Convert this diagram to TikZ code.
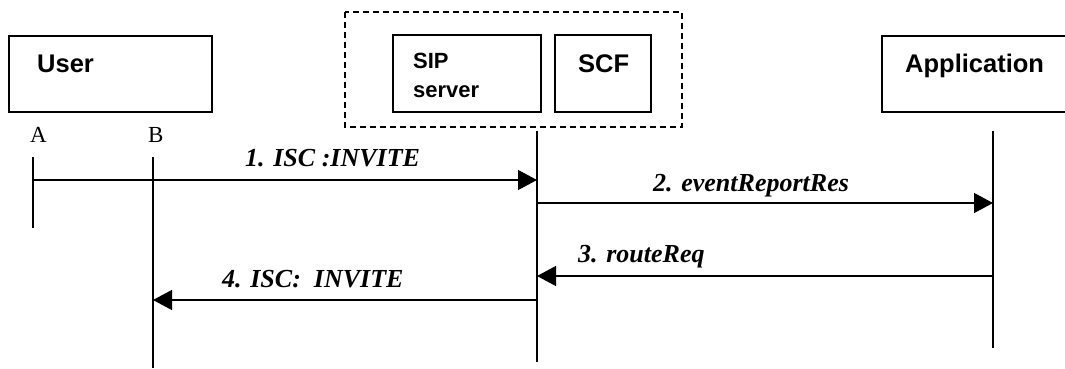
\documentclass[tikz,border=0pt]{standalone}
\usepackage{fontspec}
\setmainfont{Liberation Serif}
\setsansfont{Liberation Sans}
\usetikzlibrary{arrows.meta}
\begin{document}
\begin{tikzpicture}[x=1pt,y=-1pt,
  entity/.style={draw,line width=1.2pt},
  grp/.style={draw,line width=1.2pt,dash pattern=on 6pt off 4pt},
  life/.style={line width=1.2pt},
  msg/.style={line width=1.3pt,-{Triangle[length=19pt,width=20pt]}},
  etxt/.style={anchor=base west,inner sep=0pt,font=\sffamily\bfseries\fontsize{25.5}{30}\selectfont},
  mtxt/.style={anchor=base west,inner sep=0pt,font=\rmfamily\bfseries\itshape\fontsize{26}{30}\selectfont},
  ltxt/.style={anchor=base west,inner sep=0pt,font=\rmfamily\fontsize{23}{26}\selectfont}]
\useasboundingbox (0,0) rectangle (1065,369);
% boxes
\draw[entity] (9,36) rectangle (212,112);
\draw[grp] (345,12) rectangle (682,127);
\draw[entity] (393,35) rectangle (541,112);
\draw[entity] (555,35) rectangle (651,112);
\draw[entity] (882,36) rectangle (1080,112);
\node[etxt] (user) at (37,73) {User};
\node[etxt,font=\sffamily\bfseries\fontsize{22}{29}\selectfont,align=left] (sip) at (413,97) {SIP\\server};
\node[etxt] (scf) at (578,73) {SCF};
\node[etxt] (app) at (905,73) {Application};
\node[ltxt] (la) at (30,142) {A};
\node[ltxt] (lb) at (148,142) {B};
% lifelines
\coordinate (a0) at (33,157); \coordinate (a1) at (33,228);
\coordinate (b0) at (153,157); \coordinate (b1) at (153,368);
\coordinate (s0) at (537,131); \coordinate (s1) at (537,362);
\coordinate (p0) at (993,131); \coordinate (p1) at (993,348);
\draw[life] (a0) -- (a1);
\draw[life] (b0) -- (b1);
\draw[life] (s0) -- (s1);
\draw[life] (p0) -- (p1);
% messages
\coordinate (m1a) at (33,180); \coordinate (m1b) at (537,180);
\coordinate (m2a) at (537,203); \coordinate (m2b) at (993,203);
\coordinate (m3a) at (993,276); \coordinate (m3b) at (537,276);
\coordinate (m4a) at (537,300); \coordinate (m4b) at (153,300);
\draw[msg] (m1a) -- (m1b);
\draw[msg] (m2a) -- (m2b);
\draw[msg] (m3a) -- (m3b);
\draw[msg] (m4a) -- (m4b);
\node[mtxt] (t1) at (245,166) {1. ISC :INVITE};
\node[mtxt] (t2) at (653,191) {2. eventReportRes};
\node[mtxt] (t3) at (578,262) {3. routeReq};
\node[mtxt] (t4) at (222,287) {4. ISC:\ \ INVITE};
\end{tikzpicture}
\end{document}
